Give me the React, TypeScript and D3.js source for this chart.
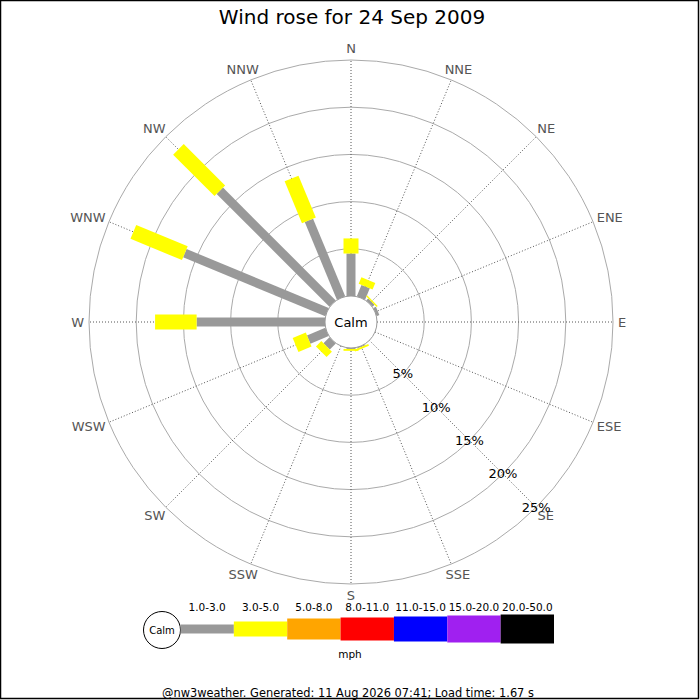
// @ts-nocheck
import * as d3 from "d3";

const directions = ["N", "NNE", "NE", "ENE", "E", "ESE", "SE", "SSE", "S", "SSW", "SW", "WSW", "W", "WNW", "NW", "NNW"];
const speedRanges = ["1.0-3.0", "3.0-5.0", "5.0-8.0", "8.0-11.0", "11.0-15.0", "15.0-20.0", "20.0-50.0"];
const rangeColors = ["#999999", "#ffff00", "#ffa500", "#ff0000", "#0000ff", "#a020f0", "#000000"];
const rangeWidths = [9, 15, 21, 23, 25, 27, 29];
// percent of time per direction, per speed range
const pct1to3 = [4.5, 1.3, 0.3, 0.3, 0, 0, 0, 0.1, 0.1, 0, 0.9, 2.1, 13.6, 16.3, 16.9, 8.9];
const pct3to5 = [1.6, 0.75, 0.15, 0, 0, 0, 0, 0.2, 0.2, 0, 0.8, 1.5, 4.4, 5.9, 6.2, 4.8];
const ringTicks = [5, 10, 15, 20, 25];

const W = 700;
const H = 700;
const cx = 351;
const cy = 322;
const calmR = 26;
const outerR = 262;
const font = "DejaVu Sans, sans-serif";
const labelSize = 13;
// rough DejaVu Sans glyph widths (em) for the compass letters
const glyphW = { N: 0.748, E: 0.632, S: 0.635, W: 0.989 };

export default function App() {
  const r = d3.scaleLinear([0, 25], [calmR, outerR]);
  const angle = d3.scaleLinear([0, directions.length], [0, 2 * Math.PI]);
  const pt = (a, rad) => [cx + rad * Math.sin(a), cy - rad * Math.cos(a)];

  const series = [pct1to3, pct3to5];
  const segs = [];
  directions.forEach((d, i) => {
    let cum = 0;
    series.forEach((s, k) => {
      const v = s[i];
      if (v > 0) {
        const a = angle(i);
        const [x1, y1] = pt(a, r(cum));
        const [x2, y2] = pt(a, r(cum + v));
        segs.push({ key: d + k, x1, y1, x2, y2, color: rangeColors[k], w: rangeWidths[k] });
      }
      cum += v;
    });
  });

  // legend
  const legX = d3.scaleLinear([0, speedRanges.length], [180.5, 554]);
  const legY = 629;

  return (
    <svg width={W} height={H} style={{ position: "absolute", left: 0, top: 0, background: "#fff" }} fontFamily={font}>
      <rect x={0.5} y={0.5} width={698} height={698} fill="white" stroke="black" strokeWidth={1.5} />
      <text x={352} y={24} textAnchor="middle" fontSize={20}>Wind rose for 24 Sep 2009</text>

      {ringTicks.map((t) => (
        <circle key={t} cx={cx} cy={cy} r={r(t)} fill="none" stroke="#aaaaaa" strokeWidth={1} />
      ))}
      {directions.map((d, i) => {
        const a = angle(i);
        const [x1, y1] = pt(a, calmR);
        const [x2, y2] = pt(a, outerR);
        return <line key={d} x1={x1} y1={y1} x2={x2} y2={y2} stroke="#555" strokeWidth={1} strokeDasharray="1,2" />;
      })}
      {directions.map((d, i) => {
        const a = angle(i);
        const w = d.split("").reduce((s, c) => s + glyphW[c], 0) * labelSize;
        const [ex, ey] = pt(a, outerR);
        const gap = 5;
        const x = ex + Math.sin(a) * (w / 2 + gap);
        const y = ey - Math.cos(a) * (labelSize / 2 + gap);
        return (
          <text key={d} x={x} y={y} textAnchor="middle" dominantBaseline="central" fontSize={labelSize} fill="#555">
            {d}
          </text>
        );
      })}

      {segs.map((s) => (
        <line key={s.key} x1={s.x1} y1={s.y1} x2={s.x2} y2={s.y2} stroke={s.color} strokeWidth={s.w} />
      ))}

      <circle cx={cx} cy={cy} r={calmR} fill="white" stroke="#999" strokeWidth={1} />
      <text x={cx} y={cy} textAnchor="middle" dominantBaseline="central" fontSize={13}>Calm</text>

      {ringTicks.map((t) => {
        const [x, y] = pt((3 * Math.PI) / 4, r(t));
        return (
          <text key={t} x={x} y={y} textAnchor="middle" dominantBaseline="central" fontSize={13}>
            {t}%
          </text>
        );
      })}

      {/* legend */}
      <circle cx={162} cy={legY + 1} r={18.5} fill="white" stroke="black" strokeWidth={1} />
      <text x={162} y={legY + 1} textAnchor="middle" dominantBaseline="central" fontSize={10}>Calm</text>
      {speedRanges.map((lab, k) => (
        <g key={lab}>
          <rect
            x={legX(k)}
            y={legY - rangeWidths[k] / 2}
            width={legX(k + 1) - legX(k)}
            height={rangeWidths[k]}
            fill={rangeColors[k]}
          />
          <text x={(legX(k) + legX(k + 1)) / 2} y={607} textAnchor="middle" dominantBaseline="central" fontSize={10.5}>
            {lab}
          </text>
        </g>
      ))}
      <text x={350} y={654} textAnchor="middle" dominantBaseline="central" fontSize={10.5}>mph</text>
      <text x={348} y={693} textAnchor="middle" dominantBaseline="central" fontSize={11.4}>
        @nw3weather. Generated: 11 Aug 2026 07:41; Load time: 1.67 s
      </text>
    </svg>
  );
}
